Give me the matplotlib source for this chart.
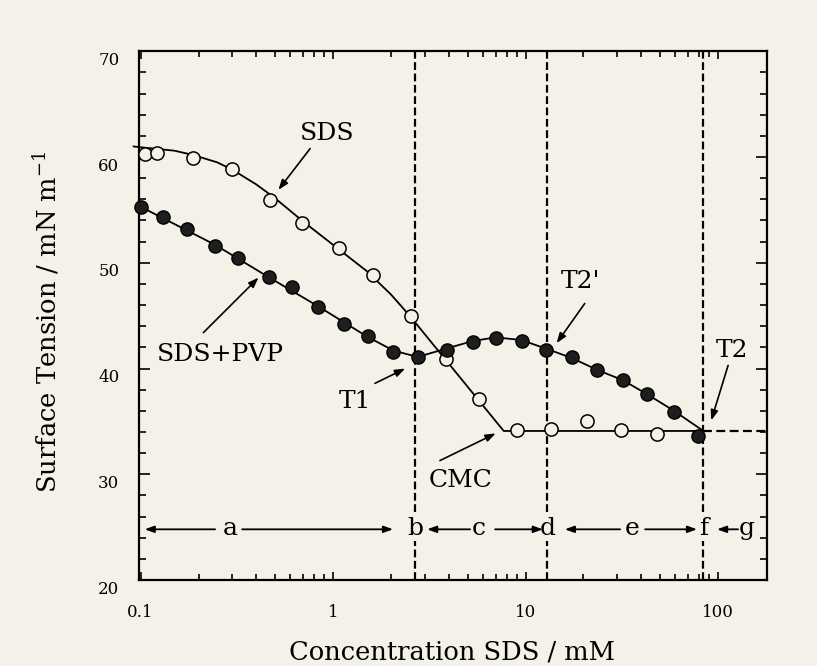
import numpy as np
import matplotlib.pyplot as plt
from matplotlib.ticker import FixedLocator, LogLocator, NullFormatter, FixedFormatter
from matplotlib.transforms import ScaledTranslation

# SDS alone (open circles), concentration in mM, surface tension in mN/m
sds_conc = [0.105, 0.121, 0.187, 0.298, 0.471, 0.693, 1.08, 1.62, 2.53,
            3.86, 5.75, 9.0, 13.5, 20.9, 31.2, 48.4]
sds_st = [60.3, 60.4, 59.9, 58.9, 55.9, 53.8, 51.4, 48.8, 45.0,
          40.9, 37.1, 34.2, 34.3, 35.0, 34.2, 33.8]

# SDS + PVP (filled circles)
pvp_conc = [0.1, 0.131, 0.175, 0.244, 0.322, 0.467, 0.610, 0.834, 1.145,
            1.51, 2.06, 2.77, 3.90, 5.32, 7.03, 9.55, 12.7, 17.4, 23.4,
            32.0, 42.6, 59.1, 79.0]
pvp_st = [55.3, 54.3, 53.2, 51.6, 50.5, 48.7, 47.7, 45.8, 44.2,
          43.1, 41.6, 41.1, 41.8, 42.5, 42.9, 42.6, 41.8, 41.1, 39.9,
          38.9, 37.6, 35.9, 33.6]

# hand-drawn guide curves through each set
sds_fit_conc = [0.092, 0.103, 0.15, 0.187, 0.25, 0.3, 0.4, 0.5, 0.7, 1.0,
                1.5, 2.0, 2.5, 7.7, 83.9]
sds_fit_st = [61.0, 60.9, 60.6, 60.2, 59.5, 58.8, 57.4, 56.1, 53.9, 51.7,
              49.2, 47.0, 45.0, 34.1, 34.1]
pvp_fit_conc = [0.1, 0.244, 0.467, 0.834, 1.51, 2.06, 2.75, 3.9, 5.3, 7.0,
                9.5, 12.7, 17.4, 23.4, 32.0, 42.6, 59.1, 83.9]
pvp_fit_st = [55.3, 51.7, 48.6, 45.9, 43.0, 41.7, 41.1, 41.9, 42.6, 42.95,
              42.7, 41.9, 41.0, 39.9, 38.9, 37.6, 36.0, 34.1]

# transition points T1, T2', T2 and the plateau level
transitions = [2.67, 13.0, 83.9]
plateau = 34.1

# region letters along the bottom
region_labels = ['a', 'b', 'c', 'd', 'e', 'f', 'g']
region_x = [0.292, 2.67, 5.73, 13.0, 35.7, 83.9, 141.0]

bg = '#f4f2e8'
plt.rcParams['font.family'] = 'DejaVu Serif'
plt.rcParams['mathtext.fontset'] = 'dejavuserif'

fig = plt.figure(figsize=(8.17, 6.66), dpi=100, facecolor=bg)
ax = fig.add_axes([0.170, 0.129, 0.769, 0.794])
ax.set_facecolor(bg)
ax.set_xscale('log')
ax.set_xlim(0.098, 180)
ax.set_ylim(20, 70)

# guide curves
ax.plot(sds_fit_conc, sds_fit_st, color='k', lw=1.3, clip_on=False, zorder=3)
ax.plot(pvp_fit_conc, pvp_fit_st, color='k', lw=1.3, zorder=3)
ax.plot([transitions[-1], 180], [plateau, plateau], color='k', lw=1.6,
        ls=(0, (4, 2)), zorder=3)

# data points
ax.plot(sds_conc, sds_st, 'o', ms=9.5, mfc=bg, mec='k', mew=1.1,
        clip_on=False, zorder=4)
ax.plot(pvp_conc, pvp_st, 'o', ms=9.5, mfc='#1e1e1e', mec='k', mew=1.0,
        clip_on=False, zorder=4)

# vertical transition lines
for xv in transitions:
    ax.axvline(xv, color='k', lw=1.6, ls=(0, (3.5, 1.6)), zorder=2)

# region letters and arrows between them
row_y = 24.8
for lab, xv in zip(region_labels, region_x):
    ax.text(xv, 24.3, lab, ha='center', va='baseline', fontsize=18,
            bbox=dict(fc=bg, ec='none', pad=1.0), zorder=5)

arrow_kw = dict(arrowstyle='-|>,head_length=0.55,head_width=0.2',
                color='k', lw=1.3, shrinkA=0, shrinkB=0)
for x0, x1 in [(0.244, 0.105), (0.337, 2.05), (5.15, 3.08), (6.95, 12.3),
               (31.0, 16.0), (41.8, 77.8), (127.0, 98.8)]:
    ax.annotate('', xy=(x1, row_y), xytext=(x0, row_y), arrowprops=arrow_kw,
                zorder=6)

# curve annotations
pointer_kw = dict(arrowstyle='-|>,head_length=0.6,head_width=0.22',
                  color='k', lw=1.2, shrinkA=0, shrinkB=0)
notes = [
    ('SDS', (0.93, 62.2), (0.76, 60.8), (0.52, 56.9)),
    ('SDS+PVP', (0.259, 41.3), (0.212, 43.4), (0.41, 48.6)),
    ('T1', (1.30, 36.85), (1.65, 38.6), (2.37, 40.0)),
    ('CMC', (4.57, 29.45), (3.59, 31.3), (7.0, 33.87)),
    ("T2'", (19.2, 48.2), (20.3, 46.15), (14.5, 42.4)),
    ('T2', (118, 41.7), (112.8, 40.3), (92.2, 35.1)),
]
for txt, pos, tail, head in notes:
    ax.text(pos[0], pos[1], txt, ha='center', va='center', fontsize=18)
    ax.annotate('', xy=head, xytext=tail, arrowprops=pointer_kw)

# axes frame and ticks
for sp in ax.spines.values():
    sp.set_linewidth(1.6)
ax.yaxis.set_major_locator(FixedLocator([20, 30, 40, 50, 60, 70]))
ax.yaxis.set_minor_locator(FixedLocator(np.arange(20, 71, 2)))
ax.xaxis.set_major_locator(FixedLocator([0.1, 1, 10, 100]))
ax.xaxis.set_major_formatter(FixedFormatter(['0.1', '1', '10', '100']))
ax.xaxis.set_minor_locator(LogLocator(base=10, subs=np.arange(2, 10)))
ax.xaxis.set_minor_formatter(NullFormatter())
ax.tick_params(which='both', direction='in', top=True, right=True,
               width=1.2, labelsize=12)
ax.tick_params(axis='y', which='major', length=8, pad=14)
ax.tick_params(axis='y', which='minor', length=5)
ax.tick_params(axis='x', which='major', length=6, pad=17)
ax.tick_params(axis='x', which='minor', length=4)
shift = ScaledTranslation(0, -7 / 100, fig.dpi_scale_trans)
for lbl in ax.get_yticklabels():
    lbl.set_transform(lbl.get_transform() + shift)

fig.text(0.057, 0.517, 'Surface Tension / mN m$^{-1}$', rotation=90,
         ha='center', va='center', fontsize=18.5)
fig.text(0.553, 0.021, 'Concentration SDS / mM', ha='center', va='center',
         fontsize=18.5)

fig.savefig('out.png', dpi=100, facecolor=bg)
